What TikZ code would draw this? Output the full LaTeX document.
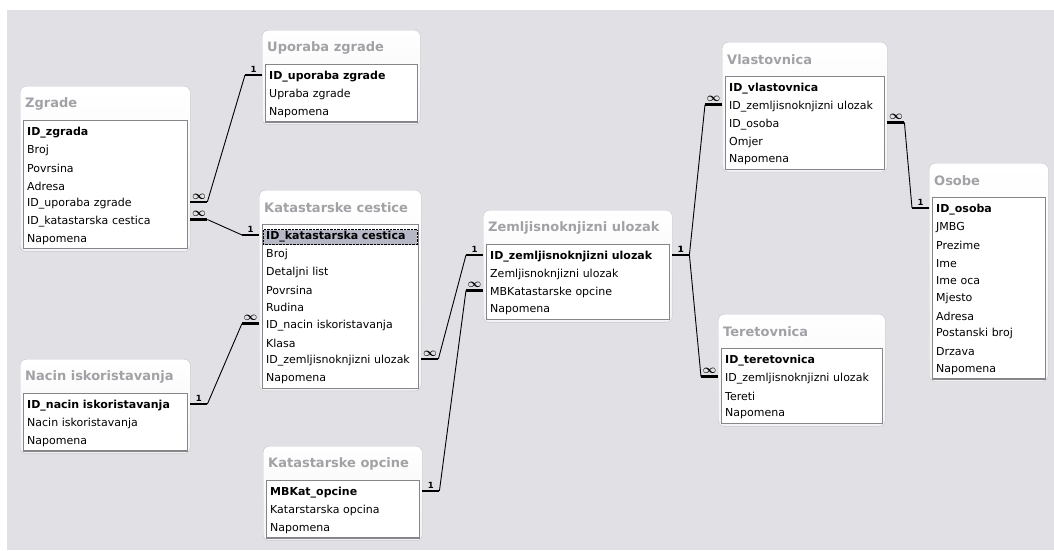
\documentclass[tikz,border=0pt]{standalone}
\usepackage{fontspec}
\setmainfont{DejaVu Sans}
\usepackage{amsmath}
\usetikzlibrary{positioning}
\definecolor{canvas}{HTML}{E1E1E5}
\definecolor{titlegray}{HTML}{A2A2A6}
\definecolor{framegray}{HTML}{C6C6CA}
\definecolor{listedge}{HTML}{86868A}
\definecolor{selrow}{HTML}{B6B8C6}
\tikzset{%
	tblframe/.style = {draw = framegray, rounded corners = 6pt, top color = white, bottom color = canvas!40, anchor = north west, inner sep = 0pt},
	tbltitle/.style = {anchor = west, inner sep = 0pt, text = titlegray, font = \fontsize{13}{15}\selectfont\bfseries},
	tbllist/.style = {draw = listedge, line width = 1.2pt, fill = white, anchor = north west, inner sep = 0pt},
	field/.style = {anchor = west, inner xsep = 3pt, inner ysep = 0pt, minimum height = 15pt, align = left, font = \fontsize{11}{13}\selectfont},
	key/.style = {font = \fontsize{11}{13}\selectfont\bfseries},
	selected/.style = {fill = selrow, draw, densely dotted},
	stub/.style = {line width = 2.6pt},
	link/.style = {line width = 0.9pt},
	card/.style = {above = 1.5pt, inner sep = 0pt, font = \fontsize{8.5}{9}\selectfont\bfseries}
}
\newcommand{\many}{{\fontsize{12}{12}\selectfont\boldmath$\infty$}}
% #1 key style, #2 name, #3 top left, #4 width, #5 title, #6 key field, #7 other fields
\newcommand{\dbtable}[7][]{%
	\foreach \f [count=\i from 2] in {#7} {\xdef\lastrow{\i}}
	\pgfmathsetmacro{\tblh}{59+(\lastrow-1)*17.7}
	\node [tblframe, minimum width = #4, minimum height = \tblh] (#2) at #3 {};
	\node [tbltitle] (#2-title) at ([shift = {(5,18)}]#2.north west) {#5};
	\node [tbllist, minimum width = #4-6, minimum height = \tblh-37] (#2-list) at ([shift = {(3,34)}]#2.north west) {};
	\node [field, key, text width = #4-14, #1] (#2-1) at ([shift = {(4,47)}]#2.north west) {#6};
	\foreach \f [count=\i from 2] in {#7}
		\node [field, text width = #4-14] (#2-\i) at ([shift = {(4,{47+(\i-1)*17.7})}]#2.north west) {\f};
}
% #1 table, #2 row, #3 its side, #4 table, #5 row, #6 its side
\newcommand{\relation}[6]{%
	\draw [stub] ([yshift = 2pt]#1-#2 -| #1.east) -- ++(17,0) coordinate (#1-#2-out) node [card, midway] {#3};
	\draw [stub] ([yshift = 2pt]#4-#5 -| #4.west) -- ++(-17,0) coordinate (#4-#5-in) node [card, midway] {#6};
	\draw [link] (#1-#2-out) -- (#4-#5-in);
}

\begin{document}
\begin{tikzpicture}[x=1pt, y=-1pt]
	\useasboundingbox (0,0) rectangle (1054,550);
	\fill [white] (0,0) rectangle (1054,550);
	\fill [canvas] (7,10) rectangle (1054,550);

	\dbtable{zg}{(20,86)}{170}{Zgrade}{ID\_zgrada}{Broj, Povrsina, Adresa, ID\_uporaba zgrade, ID\_katastarska cestica, Napomena}
	\dbtable{up}{(262,30)}{158}{Uporaba zgrade}{ID\_uporaba zgrade}{Upraba zgrade, Napomena}
	\dbtable[selected]{kc}{(259,190)}{162}{Katastarske cestice}{ID\_katastarska cestica}{Broj, Detaljni list, Povrsina, Rudina, ID\_nacin iskoristavanja, Klasa, ID\_zemljisnoknjizni ulozak, Napomena}
	\dbtable{ni}{(20,359)}{170}{Nacin iskoristavanja}{ID\_nacin iskoristavanja}{Nacin iskoristavanja, Napomena}
	\dbtable{ko}{(263,446)}{159}{Katastarske opcine}{MBKat\_opcine}{Katarstarska opcina, Napomena}
	\dbtable{zm}{(483,210)}{189}{Zemljisnoknjizni ulozak}{ID\_zemljisnoknjizni ulozak}{Zemljisnoknjizni ulozak, MBKatastarske opcine, Napomena}
	\dbtable{vl}{(722,42)}{165}{Vlastovnica}{ID\_vlastovnica}{ID\_zemljisnoknjizni ulozak, ID\_osoba, Omjer, Napomena}
	\dbtable{te}{(718,314)}{167}{Teretovnica}{ID\_teretovnica}{ID\_zemljisnoknjizni ulozak, Tereti, Napomena}
	\dbtable{os}{(929,163)}{119}{Osobe}{ID\_osoba}{JMBG, Prezime, Ime, Ime oca, Mjesto, Adresa, Postanski broj, Drzava, Napomena}

	\relation{zg}{5}{\many}{up}{1}{1}
	\relation{zg}{6}{\many}{kc}{1}{1}
	\relation{ni}{1}{1}{kc}{6}{\many}
	\relation{kc}{8}{\many}{zm}{1}{1}
	\relation{ko}{1}{1}{zm}{3}{\many}
	\relation{zm}{1}{1}{vl}{2}{\many}
	\relation{zm}{1}{1}{te}{2}{\many}
	\relation{vl}{3}{\many}{os}{1}{1}
\end{tikzpicture}
\end{document}
